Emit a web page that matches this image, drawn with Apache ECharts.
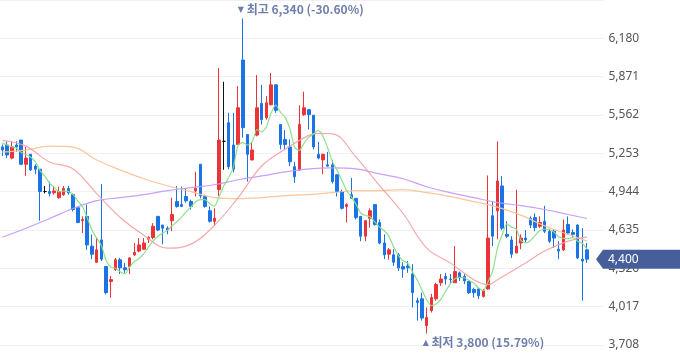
<!DOCTYPE html>
<html><head><meta charset="utf-8">
<script src="https://cdn.jsdelivr.net/npm/echarts@6/dist/echarts.min.js"></script>
<style>html,body{margin:0;padding:0;background:#fff}#c{width:680px;height:358px}</style>
</head><body><div id="c"></div>
<script>
// ---- data ----
const yTicks = [3708, 4017, 4326, 4635, 4944, 5253, 5562, 5871, 6180];
const opens = [5305,5320,5215,5320,5360,5165,5245,5150,5125,4945,4945,4935,4895,4920,4970,4920,4815,4710,4745,4505,4375,4555,4340,4220,4315,4395,4330,4340,4435,4465,4480,4560,4575,4745,4675,4650,4710,4865,4840,4905,4865,4950,5165,4905,4790,4705,4960,5350,5500,5320,5325,6005,5405,5200,5400,5655,5540,5645,5805,5485,5365,5305,5145,5120,5565,5605,5560,5245,5200,5160,5160,5080,4945,4825,4920,4890,4745,4585,4730,4840,4695,4530,4440,4435,4435,4340,4345,4280,4065,4080,3865,3985,4080,4210,4260,4240,4210,4290,4260,4220,4155,4160,4100,4160,4750,4790,4990,4600,4555,4450,4530,4570,4730,4735,4665,4705,4625,4625,4480,4475,4680,4615,4675,4400,4475];
const closes = [5280,5240,5305,5305,5165,5215,5120,5125,4945,4945,4930,4950,4945,4970,4935,4800,4695,4720,4515,4440,4475,4400,4130,4235,4395,4330,4315,4410,4455,4515,4530,4575,4665,4635,4650,4635,4760,4825,4825,4870,4825,4970,4910,4825,4705,4730,5360,5350,5145,5125,5620,5460,5245,5280,5620,5525,5660,5805,5600,5325,5325,5185,5065,5485,5620,5565,5305,5215,5245,5150,5025,4945,4810,4840,4890,4735,4585,4710,4790,4680,4530,4435,4475,4375,4330,4320,4330,4130,4050,3925,3930,4090,4195,4240,4240,4235,4300,4250,4225,4130,4130,4105,4145,4570,4585,5030,4650,4585,4440,4505,4570,4555,4675,4655,4695,4625,4545,4570,4465,4635,4610,4600,4410,4385,4400];
const lows = [5230,5215,5205,5265,5160,5070,5110,5085,4710,4930,4905,4920,4890,4910,4920,4785,4690,4610,4475,4400,4370,4385,4115,4090,4305,4280,4290,4280,4425,4455,4475,4530,4560,4625,4520,4600,4625,4815,4820,4855,4800,4905,4890,4815,4695,4675,4910,5120,5125,5100,5320,5380,5025,5195,5390,5485,5525,5640,5580,5285,5285,5150,5015,5110,5555,5445,5285,5205,5085,5145,5010,4905,4800,4695,4885,4720,4545,4545,4655,4670,4520,4400,4395,4345,4305,4250,4290,4010,3905,3905,3800,3970,4065,4185,4195,4200,4210,4225,4200,4120,4090,4080,4090,4155,4505,4560,4635,4570,4410,4450,4480,4535,4650,4625,4650,4610,4530,4490,4400,4465,4595,4570,4400,4065,4370];
const highs = [5325,5350,5350,5350,5360,5305,5245,5165,5125,4990,5025,4990,4985,4990,4990,4930,4815,4745,4840,4600,4575,5005,4340,4265,4410,4410,4370,4415,4530,4570,4570,4585,4690,4745,4675,4665,4895,4990,4985,4970,4880,5105,5165,4920,4825,4810,5940,5830,5580,5580,5795,6340,5405,5345,5885,5805,5715,5900,5810,5485,5440,5365,5185,5640,5750,5610,5560,5345,5250,5265,5200,5085,4960,4850,5055,4890,4745,4715,4810,4840,4720,4600,4490,4480,4450,4375,4385,4360,4090,4130,4010,4120,4210,4280,4290,4280,4505,4300,4280,4225,4170,4170,4160,5075,4865,5350,5070,4705,4585,4960,4600,4635,4745,4770,4745,4830,4640,4640,4545,4720,4745,4640,4680,4650,4530];
// moving averages
const ma5 = [5335,5320,5305,5295,5259,5246,5222,5186,5114,5070,5013,4979,4943,4948,4946,4920,4869,4824,4733,4634,4569,4510,4392,4336,4327,4298,4281,4337,4381,4405,4445,4497,4548,4584,4611,4632,4669,4701,4739,4783,4821,4863,4880,4880,4847,4828,4906,4994,5058,5142,5320,5340,5319,5346,5445,5426,5466,5578,5642,5583,5543,5448,5300,5277,5336,5384,5408,5438,5390,5296,5188,5116,5035,4954,4902,4844,4772,4752,4742,4700,4659,4629,4582,4499,4429,4387,4366,4297,4232,4151,4073,4025,4038,4076,4139,4200,4242,4253,4250,4228,4207,4168,4147,4216,4307,4487,4596,4684,4658,4642,4550,4531,4549,4592,4630,4641,4639,4618,4580,4568,4565,4576,4544,4528,4481];
const ma20At = [0,5,10,15,20,25,30,35,40,45,50,55,60,65,67,70,75,80,85,90,95,100,103,105,110,115,120,124];
const ma20 = [5358,5311,5183,5127,4928,4736,4593,4489,4521,4673,4896,5151,5287,5398,5414,5410,5223,4992,4768,4489,4370,4234,4194,4234,4346,4465,4545,4580];
const maLongAt = [0,5,10,15,20,25,30,35,40,45,50,55,60,65,70,75,80,85,90,95,100,105,110,115,120,124];
const ma60 = [5263,5279,5311,5303,5199,5119,5048,4992,4944,4896,4888,4896,4912,4920,4936,4952,4952,4960,4936,4904,4864,4820,4755,4668,4600,4545];
const ma120 = [4577,4649,4728,4808,4872,4896,4920,4952,4976,5000,5040,5071,5103,5127,5135,5127,5087,5048,4984,4936,4896,4856,4832,4800,4760,4728];

// ---- build ----
const fmt = v => String(Math.round(v)).replace(/\B(?=(\d{3})+(?!\d))/g, ',');
const n = opens.length;
const emptySlots = 3;
const categories = [];
for (let i = 0; i < n + emptySlots; i++) categories.push('D' + (i + 1));
const candleData = opens.map((o, i) => [o, closes[i], lows[i], highs[i]]);
const pairs = (idx, vals) => idx.map((k, j) => [k, vals[j]]);

let hiIdx = 0, loIdx = 0;
for (let i = 1; i < n; i++) { if (highs[i] > highs[hiIdx]) hiIdx = i; if (lows[i] < lows[loIdx]) loIdx = i; }
const last = closes[n - 1];
const hiVal = highs[hiIdx], loVal = lows[loIdx];
const hiPct = ((last - hiVal) / hiVal * 100).toFixed(2);
const loPct = ((last - loVal) / loVal * 100).toFixed(2);

const UP = '#ec3338', DOWN = '#1a74e6';
const annColor = '#6d7eab';
const ivl = yTicks[1] - yTicks[0];

const chart = echarts.init(document.getElementById('c'), null, {renderer: 'canvas'});
const lineS = (name, data, color, smooth) => ({
  name, type: 'line', data, showSymbol: false, symbol: 'none', smooth: smooth, connectNulls: true,
  lineStyle: {color, width: 1.2}, itemStyle: {color}, z: 3, silent: true
});
chart.setOption({
  animation: false,
  backgroundColor: '#ffffff',
  grid: {left: -2, right: 76.5, top: -3.75, bottom: 13},
  xAxis: {type: 'category', data: categories, boundaryGap: true, show: false},
  yAxis: {
    type: 'value', position: 'right', min: yTicks[0], max: yTicks[yTicks.length - 1] + ivl, interval: ivl,
    axisLine: {show: false}, axisTick: {show: false},
    splitLine: {lineStyle: {color: '#eef0f4', width: 1}},
    axisLabel: {color: '#555', fontSize: 12, margin: 5, fontFamily: 'Noto Sans',
      formatter: v => (v > yTicks[yTicks.length - 1] ? '' : fmt(v))}
  },
  series: [
    {
      type: 'candlestick', data: candleData, barWidth: 3, z: 2,
      itemStyle: {color: UP, color0: DOWN, borderColor: UP, borderColor0: DOWN, borderColorDoji: '#111', borderWidth: 1},
      markPoint: {
        symbol: 'rect', symbolSize: 0, silent: true, animation: false,
        label: {show: true, color: annColor, fontSize: 12, fontWeight: 'bold', fontFamily: 'Noto Sans CJK KR',
          rich: {t: {fontSize: 8, fontFamily: 'DejaVu Sans', color: annColor}}},
        data: [
          {coord: [hiIdx, hiVal], label: {position: [-5, -15], formatter: '{t|▼} 최고 ' + fmt(hiVal) + ' (' + hiPct + '%)'}},
          {coord: [loIdx, loVal], label: {position: [-4, 3], formatter: '{t|▲} 최저 ' + fmt(loVal) + ' (' + loPct + '%)'}}
        ]
      }
    },
    lineS('MA120', pairs(maLongAt, ma120), 'rgba(195,150,248,0.9)', 0.4),
    lineS('MA60', pairs(maLongAt, ma60), 'rgba(250,195,150,0.95)', 0.4),
    lineS('MA20', pairs(ma20At, ma20), 'rgba(245,160,160,0.9)', 0.4),
    lineS('MA5', ma5, 'rgba(135,222,135,0.95)', 0.2)
  ]
});
const yPix = chart.convertToPixel({yAxisIndex: 0}, last);
chart.setOption({
  graphic: [
    {type: 'polygon', z: 100, shape: {points: [[596, yPix], [603, yPix - 9.5], [680, yPix - 9.5], [680, yPix + 9.5], [603, yPix + 9.5]]},
      style: {fill: '#465f9b'}},
    {type: 'text', z: 101, x: 608, y: yPix, style: {text: fmt(last), fill: '#ffffff', font: '12px "Noto Sans"', verticalAlign: 'middle'}}
  ]
});
</script>
</body></html>
